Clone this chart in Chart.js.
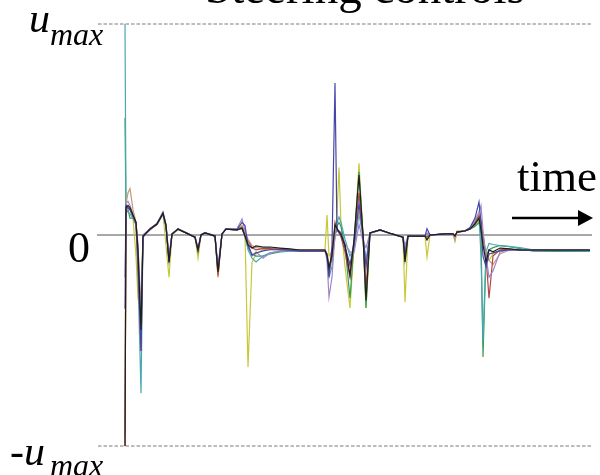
<!DOCTYPE html>
<html>
<head>
<meta charset="utf-8">
<script src="https://cdn.jsdelivr.net/npm/chart.js@4/dist/chart.umd.min.js"></script>
<style>
  html, body { margin: 0; padding: 0; background: #fff; }
  #wrap { position: relative; width: 600px; height: 475px; overflow: hidden; background: #fff; }
  #c { position: absolute; left: 0; top: 0; }
  .lbl { position: absolute; font-family: "Liberation Serif", "Times New Roman", serif; line-height: 1; color: #000; white-space: nowrap; }
  .it { font-style: italic; }
  svg { position: absolute; left: 0; top: 0; }
</style>
</head>
<body>
<div id="wrap">
  <canvas id="c" width="600" height="475"></canvas>
  <div class="lbl" style="left:205px; top:-36px; font-size:47px;">Steering controls</div>
  <div class="lbl it" style="left:29px; top:-3px; font-size:42px;">u</div>
  <div class="lbl it" style="left:50px; top:18px; font-size:32px;">max</div>
  <div class="lbl" style="left:68px; top:226px; font-size:44px;">0</div>
  <div class="lbl it" style="left:10px; top:430px; font-size:42px;">-u</div>
  <div class="lbl it" style="left:50px; top:449px; font-size:32px;">max</div>
  <div class="lbl" style="left:517px; top:154px; font-size:45px;">time</div>
  <svg width="600" height="475">
    <line x1="512" y1="218" x2="580" y2="218" stroke="#000" stroke-width="2.5"/>
    <polygon points="578,210 593,218 578,226" fill="#000"/>
  </svg>
</div>
<script>
// time steps (arbitrary time units)
const timeSteps = [0, 1, 3, 5, 8, 11, 13, 16, 18, 25,
  32, 38, 41, 44, 47, 53, 61, 70, 73, 76,
  80, 90, 93, 97, 101, 112, 117, 120, 123, 127,
  131, 138, 145, 155, 165, 175, 190, 200, 202, 204,
  207, 210, 212, 214, 216, 220, 225, 229, 234, 238,
  241, 245, 255, 267, 278, 280, 283, 293, 300, 302,
  305, 320, 328, 330, 332, 340, 345, 350, 354, 356,
  358, 361, 364, 368, 375, 385, 395, 408, 435, 465];

// steering control values, normalised to u_max
const uBlack = [-1.0, 0.13, 0.14, 0.13, 0.095, 0.06, -0.07, -0.45, -0.005, 0.028,
  0.052, 0.105, 0.047, -0.128, 0.005, 0.028, 0.01, -0.01, -0.07, 0,
  0.01, -0.005, -0.175, 0.005, 0.028, 0.024, 0.033, -0.005, -0.047, -0.062,
  -0.052, -0.057, -0.057, -0.062, -0.066, -0.071, -0.071, -0.071, -0.095, -0.156,
  -0.095, 0.047, 0.033, 0.014, 0, -0.047, -0.19, -0.024, 0.284, 0,
  -0.31, 0.01, 0.024, 0.005, -0.01, -0.128, -0.005, -0.005, -0.005, -0.024,
  0, 0.005, 0.005, -0.005, 0.014, 0.019, 0.028, 0.052, 0.08, 0.024,
  -0.047, -0.128, -0.071, -0.08, -0.062, -0.066, -0.071, -0.071, -0.071, -0.071];

const uYellow = [-0.9, 0.12, 0.13, 0.12, 0.08, -0.1, -0.3, -0.35, 0.0, 0.025,
  0.05, 0.1, -0.05, -0.2, 0.0, 0.025, 0.01, -0.01, -0.11, 0,
  0.01, -0.005, -0.2, 0.005, 0.028, 0.024, 0.03, 0.0, -0.626, -0.13,
  -0.09, -0.07, -0.065, -0.065, -0.07, -0.071, -0.071, -0.071, 0.095, -0.1,
  -0.08, -0.02, 0.1, 0.32, 0.05, -0.15, -0.346, -0.05, 0.34, 0.0,
  -0.346, 0.01, 0.024, 0.005, -0.01, -0.318, -0.005, -0.005, -0.005, -0.104,
  0, 0.005, 0.005, -0.03, 0.02, 0.019, 0.028, 0.045, 0.07, 0.03,
  -0.03, -0.1, -0.12, -0.09, -0.07, -0.07, -0.072, -0.072, -0.072, -0.072];

const uBlue = [-0.35, 0.14, 0.13, 0.12, 0.09, 0.06, -0.1, -0.55, -0.01, 0.03,
  0.055, 0.1, 0.04, -0.12, 0.005, 0.03, 0.01, -0.01, -0.07, 0,
  0.01, -0.005, -0.17, 0.005, 0.028, 0.026, 0.06, 0.045, -0.05, -0.095,
  -0.085, -0.075, -0.07, -0.07, -0.072, -0.076, -0.076, -0.076, -0.1, -0.2,
  -0.05, 0.72, 0.02, 0.02, 0.01, -0.06, -0.14, -0.05, 0.15, 0.0,
  -0.15, 0.01, 0.024, 0.005, -0.01, -0.09, -0.005, -0.005, -0.005, 0.03,
  0, 0.005, 0.005, -0.005, 0.014, 0.02, 0.035, 0.08, 0.156, 0.06,
  -0.1, -0.15, -0.09, -0.085, -0.075, -0.07, -0.072, -0.072, -0.072, -0.072];

const uPurple = [-0.2, 0.15, 0.16, 0.14, 0.1, 0.06, -0.05, -0.4, 0.0, 0.03,
  0.055, 0.11, 0.05, -0.1, 0.005, 0.03, 0.012, -0.008, -0.06, 0.002,
  0.012, -0.003, -0.15, 0.006, 0.03, 0.03, 0.076, 0.02, -0.04, -0.1,
  -0.08, -0.11, -0.085, -0.075, -0.073, -0.074, -0.074, -0.074, -0.12, -0.294,
  -0.2, 0.0, 0.02, 0.01, 0.0, -0.04, -0.08, -0.085, 0.05, -0.03,
  -0.06, 0.008, 0.022, 0.004, -0.01, -0.05, -0.005, -0.005, -0.005, 0.01,
  0, 0.004, 0.004, -0.004, 0.012, 0.018, 0.03, 0.07, 0.11, 0.14,
  0.02, -0.1, -0.2, -0.17, -0.08, -0.07, -0.071, -0.071, -0.071, -0.071];

const uGreen = [0.555, 0.1, 0.12, 0.08, 0.08, 0.05, -0.1, -0.4, -0.005, 0.028,
  0.05, 0.1, 0.04, -0.13, 0.005, 0.028, 0.01, -0.01, -0.08, 0,
  0.01, -0.005, -0.18, 0.005, 0.028, 0.024, 0.03, -0.01, -0.06, -0.09,
  -0.1, -0.1, -0.09, -0.08, -0.076, -0.076, -0.076, -0.076, -0.09, -0.14,
  -0.12, 0.0, 0.04, 0.06, 0.04, -0.05, -0.3, -0.04, 0.3, 0.0,
  -0.346, 0.01, 0.024, 0.005, -0.01, -0.12, -0.005, -0.005, -0.005, -0.02,
  0, 0.005, 0.005, -0.005, 0.014, 0.02, 0.028, 0.04, 0.06, 0.0,
  -0.578, -0.1, -0.07, -0.06, -0.05, -0.055, -0.065, -0.076, -0.078, -0.078];

const uTeal = [1.0, 0.12, 0.11, 0.1, 0.08, 0.05, -0.2, -0.75, -0.01, 0.025,
  0.05, 0.1, 0.04, -0.11, 0.005, 0.028, 0.01, -0.01, -0.07, 0,
  0.01, -0.005, -0.16, 0.005, 0.028, 0.024, 0.04, 0.01, -0.07, -0.11,
  -0.128, -0.1, -0.085, -0.078, -0.076, -0.076, -0.076, -0.076, -0.1, -0.2,
  -0.15, 0.02, 0.06, 0.085, 0.06, -0.02, -0.1, -0.06, 0.1, -0.01,
  -0.12, 0.01, 0.024, 0.005, -0.01, -0.08, -0.005, -0.005, -0.005, 0.0,
  0, 0.005, 0.005, -0.005, 0.014, 0.02, 0.03, 0.05, 0.09, -0.1,
  -0.5, -0.08, -0.04, -0.045, -0.05, -0.055, -0.06, -0.07, -0.074, -0.076];

const uRed = [-1.0, 0.12, 0.13, 0.12, 0.09, 0.05, -0.15, -0.55, -0.005, 0.025,
  0.05, 0.1, 0.045, -0.13, 0.005, 0.028, 0.01, -0.01, -0.075, 0,
  0.01, -0.005, -0.19, 0.005, 0.028, 0.024, 0.035, 0.0, -0.03, -0.06,
  -0.07, -0.065, -0.065, -0.068, -0.07, -0.071, -0.071, -0.071, -0.09, -0.18,
  -0.1, 0.06, 0.03, 0.01, -0.01, -0.08, -0.2, -0.03, 0.2, 0.0,
  -0.25, 0.01, 0.024, 0.005, -0.01, -0.1, -0.005, -0.005, -0.005, -0.01,
  0, 0.005, 0.005, -0.005, 0.014, 0.02, 0.03, 0.06, 0.09, 0.07,
  0.0, -0.1, -0.3, -0.1, -0.07, -0.068, -0.07, -0.07, -0.071, -0.071];

const uTan = [-0.95, 0.15, 0.2, 0.22, 0.12, 0.06, -0.05, -0.35, 0.0, 0.028,
  0.05, 0.105, 0.05, -0.1, 0.005, 0.028, 0.01, -0.01, -0.07, 0,
  0.01, -0.005, -0.2, 0.005, 0.028, 0.024, 0.045, 0.015, -0.02, -0.05,
  -0.06, -0.065, -0.068, -0.07, -0.07, -0.071, -0.071, -0.071, -0.09, -0.16,
  -0.08, 0.03, 0.02, 0.015, 0.0, -0.05, -0.15, -0.03, 0.12, 0.0,
  -0.15, 0.01, 0.024, 0.005, -0.01, -0.07, -0.005, -0.005, -0.005, 0.0,
  0, 0.005, 0.005, -0.025, 0.015, 0.02, 0.03, 0.06, 0.1, 0.05,
  -0.02, -0.08, -0.12, -0.14, -0.09, -0.07, -0.07, -0.07, -0.07, -0.07];

// reference levels: +u_max, 0, -u_max ; time range of the frame
const refLevels = [1, 0, -1];
const timeRange = [-27, 467];
const zeroStart = -28;

const series = [
  { name: 'run 1', data: uBlack, color: '#1e1e1e' },
  { name: 'run 2', data: uBlue, color: '#4646a8' },
  { name: 'run 3', data: uPurple, color: '#a088c8' },
  { name: 'run 4', data: uRed, color: '#b04848' },
  { name: 'run 5', data: uTan, color: '#c49a78' },
  { name: 'run 6', data: uTeal, color: '#48a8b0' },
  { name: 'run 7', data: uGreen, color: '#3a9a58' },
  { name: 'run 8', data: uYellow, color: '#c8c83a' }
];

const datasets = series.map(s => ({
  label: s.name,
  data: timeSteps.map((t, i) => ({ x: t, y: s.data[i] })),
  borderColor: s.color,
  borderWidth: 1.2,
  pointRadius: 0,
  tension: 0,
  fill: false
}));

refLevels.forEach(v => {
  datasets.push({
    label: 'ref ' + v,
    data: [{ x: v === 0 ? zeroStart : timeRange[0], y: v }, { x: timeRange[1], y: v }],
    borderColor: v === 0 ? '#a8a8a8' : '#a6a6a6',
    borderWidth: v === 0 ? 1.8 : 1.6,
    borderDash: v === 0 ? [] : [3.5, 2],
    pointRadius: 0,
    fill: false
  });
});

new Chart(document.getElementById('c'), {
  type: 'line',
  data: { datasets },
  options: {
    responsive: false,
    animation: false,
    devicePixelRatio: 1,
    layout: { padding: { left: 98, right: 8, top: 24, bottom: 29 } },
    scales: {
      x: { type: 'linear', min: timeRange[0], max: timeRange[1], display: false },
      y: { type: 'linear', min: -1, max: 1, display: false }
    },
    plugins: { legend: { display: false }, tooltip: { enabled: false }, title: { display: false } },
    clip: false
  }
});
</script>
</body>
</html>
